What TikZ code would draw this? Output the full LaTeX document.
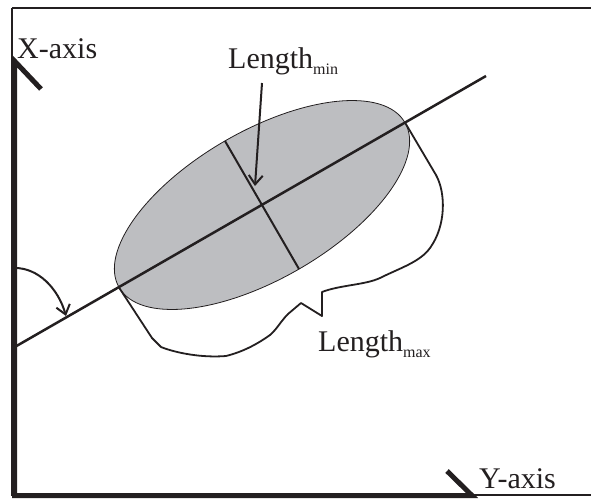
\documentclass[tikz,border=0pt]{standalone}
\usepackage{fontspec}
\setmainfont{Liberation Serif}
\usepackage{xcolor}
\definecolor{figblack}{RGB}{35,31,32}
\definecolor{figgray}{RGB}{189,190,193}
\usetikzlibrary{arrows.meta, calc}

\tikzset{
  axisline/.style={line width=5pt, figblack, line join=miter},
  lbl/.style={font=\fontsize{30}{30}\selectfont, figblack, inner sep=0pt, anchor=base west},
  pointer/.style={line width=2pt, figblack, -{Straight Barb[length=9pt,width=14pt]}},
}
\newcommand{\lowsub}[1]{\raisebox{-6pt}{\fontsize{16}{16}\selectfont #1}}

\begin{document}
\begin{tikzpicture}[x=1pt, y=-1pt]
  \useasboundingbox (0,0) rectangle (591,498);
  % Frame
  \draw[line width=1.5pt, figblack] (12,8) -- (591,8);
  \draw[line width=1.5pt, figblack] (12,8) -- (12,495) -- (591,495);

  % --- Axes ---
  \draw[axisline] (41,89) -- (14.5,61) -- (14.5,495.5) -- (472,495.5) -- (447,471);
  \node[lbl] (xlab) at (17,58) {X-axis};
  \node[lbl] (ylab) at (479,488) {Y-axis};

  % --- Ellipse and its axes ---
  \coordinate (ctr) at (262,205);
  \fill[figgray] (ctr) ellipse [x radius=165, y radius=74, rotate around={30:(ctr)}];
  \draw[line width=0.8pt, figblack, rotate around={30:(ctr)}] (ctr) ellipse [x radius=165, y radius=74];
  \coordinate (majL) at (119,287.5);
  \coordinate (majR) at (405,122.5);
  \coordinate (lineA) at (13,348);
  \coordinate (lineB) at (486,76);
  \coordinate (minA) at (225,141);
  \coordinate (minB) at (299,269);
  \draw[line width=2.5pt, figblack] (lineA) -- (lineB);
  \draw[line width=2pt, figblack] (minA) -- (minB);

  % --- Length min ---
  \node[lbl] (lenmin) at (228,68) {Length\lowsub{min}};
  \coordinate (minFrom) at (262,83);
  \coordinate (minTip) at (255,186);
  \draw[pointer] (minFrom) -- (minTip);

  % --- Angle arrow ---
  \coordinate (angFrom) at (15,268);
  \coordinate (angTip) at (66,316);
  \draw[pointer] (angFrom) .. controls (38,268) and (58,288) .. (angTip);

  % --- Brace for length max ---
  \draw[line width=1.8pt, figblack, line join=round]
    (majR) -- (436,175) .. controls (446,193) and (446,226) .. (430,248)
    .. controls (420,262) and (400,268) .. (380,278)
    .. controls (365,285) and (340,285) .. (322,292)
    -- (322,316) -- (301,303) -- (288,314)
    .. controls (281,321) and (277,329) .. (270,335)
    .. controls (256,345) and (242,352) .. (226,356)
    .. controls (202,358) and (176,353) .. (161,347)
    -- (152,338) -- (majL);
  \node[lbl] (lenmax) at (318,351) {Length\lowsub{max}};
\end{tikzpicture}
\end{document}
